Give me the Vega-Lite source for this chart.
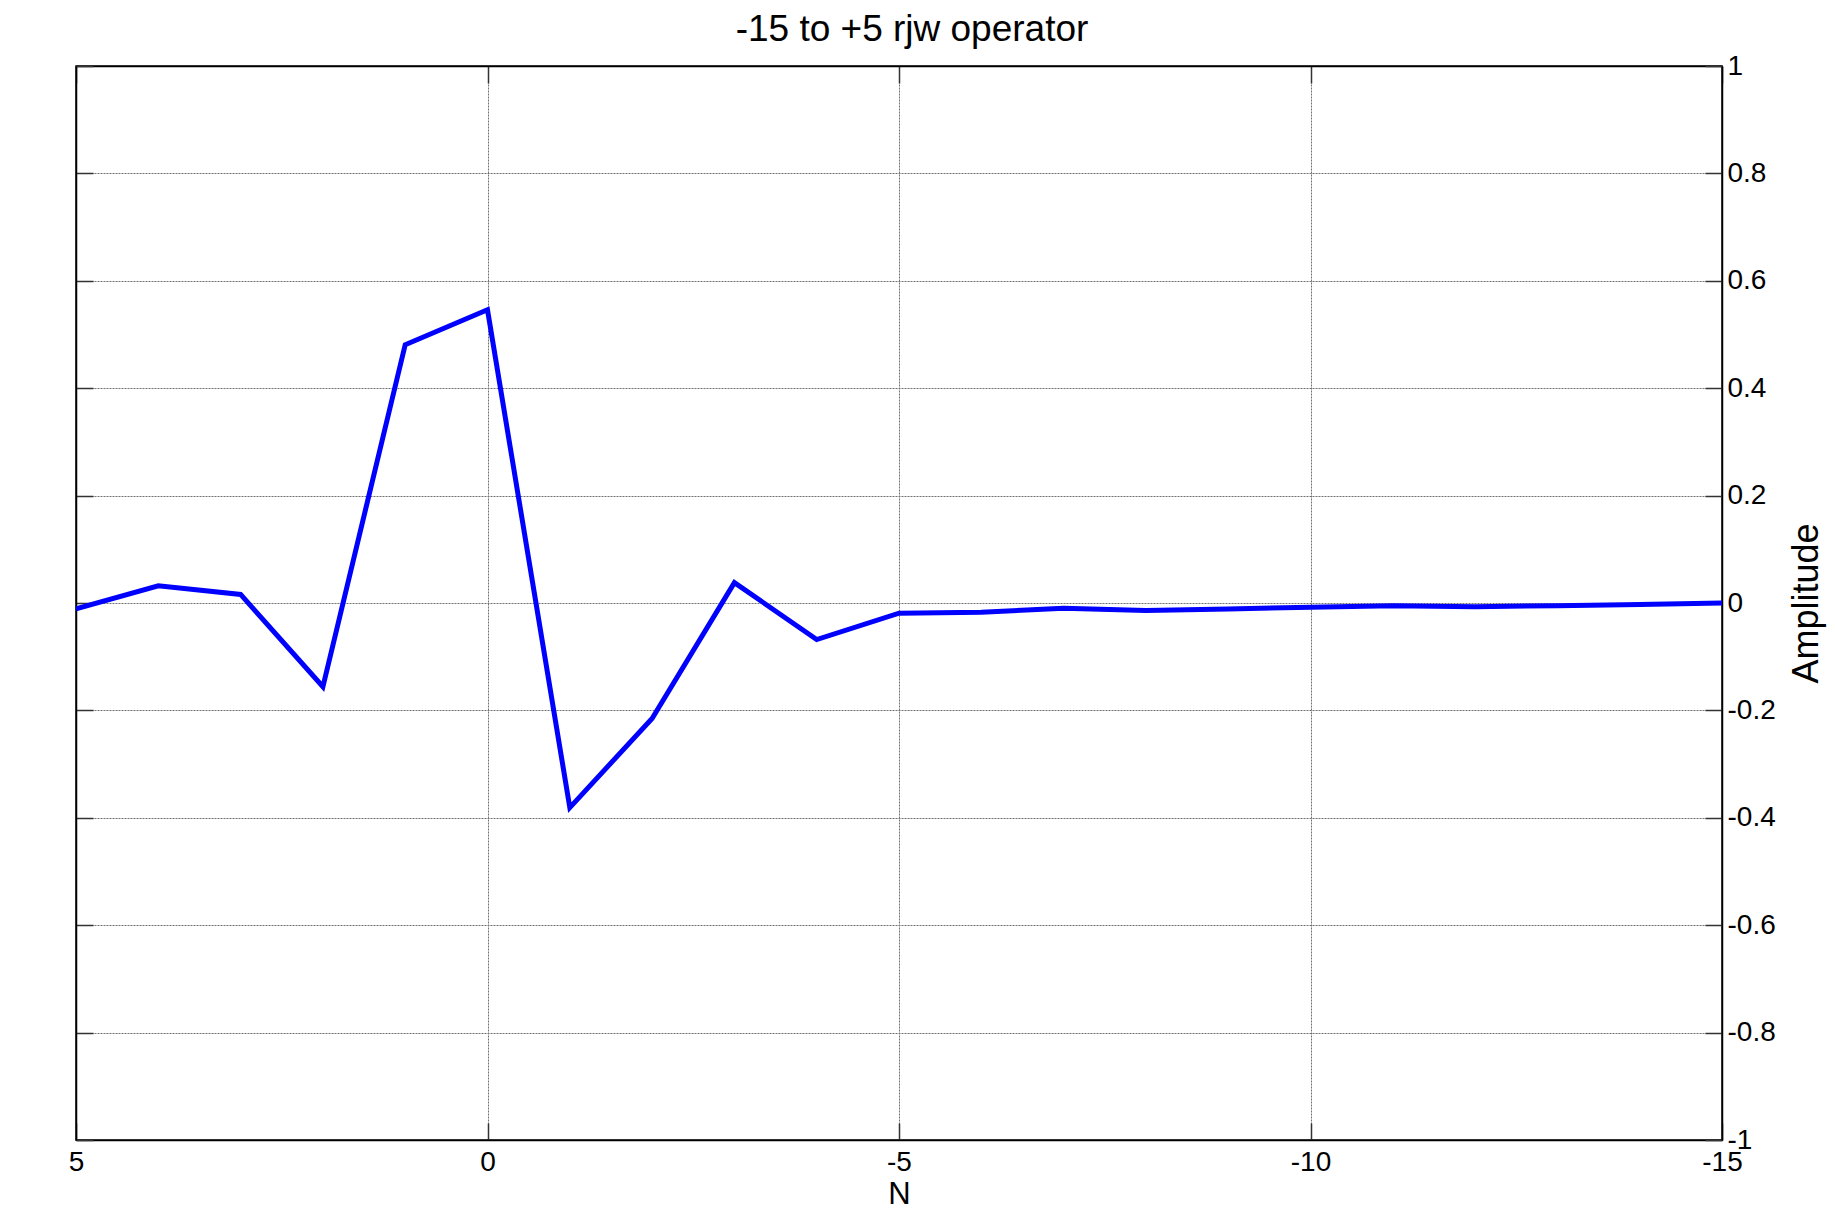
{
  "$schema": "https://vega.github.io/schema/vega-lite/v6.json",
  "autosize": {"type": "none"},
  "width": 1646,
  "height": 1074,
  "padding": {"left": 76, "top": 66, "right": 113, "bottom": 71},
  "background": "white",
  "config": {
    "font": "Liberation Sans",
    "view": {"stroke": "black", "strokeWidth": 1.5},
    "axis": {
      "domainColor": "black",
      "domainWidth": 1.5,
      "tickColor": "#333333",
      "tickWidth": 1.5,
      "tickSize": -17,
      "gridColor": "#707070",
      "gridWidth": 1,
      "gridDash": [2, 1],
      "labelColor": "black",
      "titleColor": "black",
      "labelFont": "Liberation Sans",
      "titleFont": "Liberation Sans",
      "labelFontSize": 28,
      "titleFontSize": 36,
      "titleFontWeight": "normal"
    }
  },
  "title": {
    "text": "-15 to +5 rjw operator",
    "fontSize": 37,
    "fontWeight": "normal",
    "font": "Liberation Sans",
    "color": "black",
    "anchor": "middle",
    "offset": 3,
    "dx": 13
  },
  "data": {
    "values": [
      {"N": 5, "Amplitude": -0.011},
      {"N": 4, "Amplitude": 0.032},
      {"N": 3, "Amplitude": 0.016},
      {"N": 2, "Amplitude": -0.156},
      {"N": 1, "Amplitude": 0.481},
      {"N": 0, "Amplitude": 0.546},
      {"N": -1, "Amplitude": -0.381},
      {"N": -2, "Amplitude": -0.215},
      {"N": -3, "Amplitude": 0.038},
      {"N": -4, "Amplitude": -0.068},
      {"N": -5, "Amplitude": -0.019},
      {"N": -6, "Amplitude": -0.017},
      {"N": -7, "Amplitude": -0.010},
      {"N": -8, "Amplitude": -0.014},
      {"N": -9, "Amplitude": -0.011},
      {"N": -10, "Amplitude": -0.008},
      {"N": -11, "Amplitude": -0.005},
      {"N": -12, "Amplitude": -0.007},
      {"N": -13, "Amplitude": -0.005},
      {"N": -14, "Amplitude": -0.003},
      {"N": -15, "Amplitude": 0.0}
    ]
  },
  "resolve": {"axis": {"x": "independent", "y": "independent"}},
  "layer": [
    {
      "mark": {"type": "line", "color": "#0000ff", "strokeWidth": 5, "strokeJoin": "miter", "clip": true},
      "encoding": {
        "x": {
          "field": "N", "type": "quantitative",
          "scale": {"domain": [-15, 5], "reverse": true, "nice": false, "zero": false},
          "axis": {
            "orient": "bottom",
            "values": [-15, -10, -5, 0, 5],
            "labelExpr": "'' + datum.value",
            "labelPadding": 25,
            "labelFlush": false,
            "title": "N",
            "titleFontSize": 31,
            "titlePadding": 3,
            "grid": true
          }
        },
        "y": {
          "field": "Amplitude", "type": "quantitative",
          "scale": {"domain": [-1, 1], "nice": false, "zero": false},
          "axis": {
            "orient": "right",
            "values": [-1, -0.8, -0.6, -0.4, -0.2, 0, 0.2, 0.4, 0.6, 0.8, 1],
            "labelExpr": "'' + round(datum.value * 10) / 10",
            "labelPadding": 22,
            "labelFlush": false,
            "title": "Amplitude",
            "titleAngle": -90,
            "titlePadding": 50,
            "grid": true
          }
        }
      }
    },
    {
      "mark": {"type": "line", "opacity": 0},
      "encoding": {
        "x": {
          "field": "N", "type": "quantitative",
          "scale": {"domain": [-15, 5], "reverse": true, "nice": false, "zero": false},
          "axis": {"orient": "top", "values": [-15, -10, -5, 0, 5], "labels": false, "title": null, "grid": false}
        },
        "y": {
          "field": "Amplitude", "type": "quantitative",
          "scale": {"domain": [-1, 1], "nice": false, "zero": false},
          "axis": {"orient": "left", "values": [-1, -0.8, -0.6, -0.4, -0.2, 0, 0.2, 0.4, 0.6, 0.8, 1], "labels": false, "title": null, "grid": false}
        }
      }
    }
  ]
}
